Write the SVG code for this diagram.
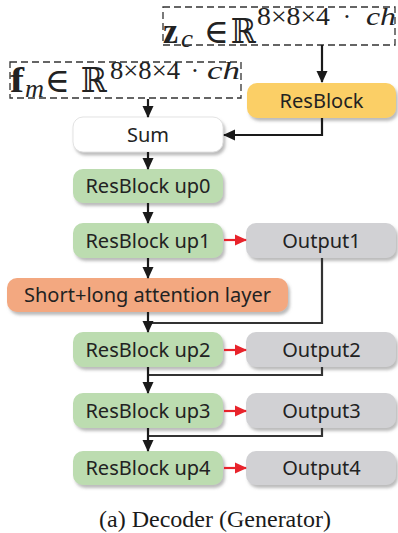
<svg xmlns="http://www.w3.org/2000/svg" width="398" height="533" viewBox="0 0 398 533">
<style>
.box{stroke:none;filter:url(#sh)}
.green{fill:#bcdcb0}
.gray{fill:#d1d1d4}
.lbl{font-family:"Noto Sans","Open Sans",sans-serif;font-size:20px;fill:#222;text-anchor:middle}
.dash{fill:none;stroke:#333;stroke-width:1.3;stroke-dasharray:7,4}
.math{font-family:"Liberation Serif","DejaVu Serif",serif;fill:#222}
.arr{fill:none;stroke:#1a1a1a;stroke-width:2.2;marker-end:url(#ah)}
.red{fill:none;stroke:#e8232b;stroke-width:2.2;marker-end:url(#ahr)}
.fb{fill:none;stroke:#333;stroke-width:2.2}
</style>
<defs>
<filter id="sh" x="-10%" y="-20%" width="125%" height="160%">
<feDropShadow dx="2" dy="3" stdDeviation="1.5" flood-color="#777" flood-opacity="0.5"/>
</filter>
<marker id="ah" markerUnits="userSpaceOnUse" markerWidth="12" markerHeight="12" refX="11" refY="6" orient="auto">
<path d="M0,0.5 L12,6 L0,11.5 z" fill="#1a1a1a"/>
</marker>
<marker id="ahr" markerUnits="userSpaceOnUse" markerWidth="12" markerHeight="12" refX="11" refY="6" orient="auto">
<path d="M0,0.5 L12,6 L0,11.5 z" fill="#e8232b"/>
</marker>
</defs>

<g id="zc">
<rect class="dash" x="163" y="7" width="232" height="38"/>
<text class="math" x="163" y="43" font-size="36" font-weight="bold" textLength="15" lengthAdjust="spacingAndGlyphs">z</text>
<text class="math" x="181" y="47" font-size="25" font-style="italic" textLength="12" lengthAdjust="spacingAndGlyphs">c</text>
<text class="math" x="216" y="43" font-size="34" text-anchor="middle">∈</text>
<text class="math" x="231" y="43" font-size="34" textLength="25" lengthAdjust="spacingAndGlyphs">ℝ</text>
<text class="math" x="257" y="25" font-size="25" textLength="73" lengthAdjust="spacingAndGlyphs">8×8×4</text>
<text class="math" x="347" y="25" font-size="25" text-anchor="middle">·</text>
<text class="math" x="366" y="25" font-size="25" font-style="italic" textLength="30" lengthAdjust="spacingAndGlyphs">ch</text>
</g>

<g id="fm">
<rect class="dash" x="10" y="62" width="231" height="36"/>
<text class="math" x="10" y="92" font-size="36" font-weight="bold" textLength="14" lengthAdjust="spacingAndGlyphs">f</text>
<text class="math" x="25" y="97" font-size="25" font-style="italic" textLength="19" lengthAdjust="spacingAndGlyphs">m</text>
<text class="math" x="57" y="92" font-size="34" text-anchor="middle">∈</text>
<text class="math" x="81" y="92" font-size="34" textLength="26" lengthAdjust="spacingAndGlyphs">ℝ</text>
<text class="math" x="110" y="79" font-size="25" textLength="70" lengthAdjust="spacingAndGlyphs">8×8×4</text>
<text class="math" x="195" y="79" font-size="25" text-anchor="middle">·</text>
<text class="math" x="207" y="79" font-size="25" font-style="italic" textLength="33" lengthAdjust="spacingAndGlyphs">ch</text>
</g>

<g id="resblock">
<rect class="box" x="247" y="83" width="149" height="35" rx="10" fill="#fbcf66"/>
<text class="lbl" x="321.5" y="108">ResBlock</text>
</g>
<g id="sum">
<rect class="box" x="73" y="117" width="150" height="35" rx="10" fill="#ffffff" style="stroke:#dcdcdc;stroke-width:0.8"/>
<text class="lbl" x="148" y="142">Sum</text>
</g>
<g id="up0">
<rect class="box green" x="73" y="169" width="150" height="34" rx="10"/>
<text class="lbl" x="148" y="193">ResBlock up0</text>
</g>
<g id="up1">
<rect class="box green" x="73" y="223" width="150" height="35" rx="10"/>
<text class="lbl" x="148" y="248">ResBlock up1</text>
</g>
<g id="out1">
<rect class="box gray" x="246" y="223" width="150" height="35" rx="10"/>
<text class="lbl" x="321.5" y="248">Output1</text>
</g>
<g id="attn">
<rect class="box" x="7" y="278" width="281" height="34" rx="10" fill="#f3a880"/>
<text class="lbl" x="147.5" y="302">Short+long attention layer</text>
</g>
<g id="up2">
<rect class="box green" x="73" y="332" width="150" height="35" rx="10"/>
<text class="lbl" x="148" y="357">ResBlock up2</text>
</g>
<g id="out2">
<rect class="box gray" x="246" y="332" width="150" height="35" rx="10"/>
<text class="lbl" x="321.5" y="357">Output2</text>
</g>
<g id="up3">
<rect class="box green" x="73" y="393" width="150" height="35" rx="10"/>
<text class="lbl" x="148" y="418">ResBlock up3</text>
</g>
<g id="out3">
<rect class="box gray" x="246" y="393" width="150" height="35" rx="10"/>
<text class="lbl" x="321.5" y="418">Output3</text>
</g>
<g id="up4">
<rect class="box green" x="73" y="451" width="150" height="34" rx="10"/>
<text class="lbl" x="148" y="475">ResBlock up4</text>
</g>
<g id="out4">
<rect class="box gray" x="246" y="451" width="150" height="34" rx="10"/>
<text class="lbl" x="321.5" y="475">Output4</text>
</g>

<g id="connectors">
<path class="fb" d="M322,258 V323 H148"/>
<path class="fb" d="M322,367 V375 H148"/>
<path class="fb" d="M322,428 V436 H148"/>
<path class="arr" d="M322,45 V82"/>
<path class="arr" d="M148,99 V117"/>
<path class="arr" d="M322,118 V135 H224"/>
<path class="arr" d="M148,152 V169"/>
<path class="arr" d="M148,203 V223"/>
<path class="arr" d="M148,258 V278"/>
<path class="arr" d="M148,312 V332"/>
<path class="arr" d="M148,367 V393"/>
<path class="arr" d="M148,428 V451"/>
<path class="red" d="M224,240 H246"/>
<path class="red" d="M224,350 H246"/>
<path class="red" d="M224,411 H246"/>
<path class="red" d="M224,468 H246"/>
</g>

<text x="215" y="527" font-family="'Liberation Serif','Times New Roman',serif" font-size="24" fill="#1a1a1a" text-anchor="middle">(a) Decoder (Generator)</text>
</svg>
